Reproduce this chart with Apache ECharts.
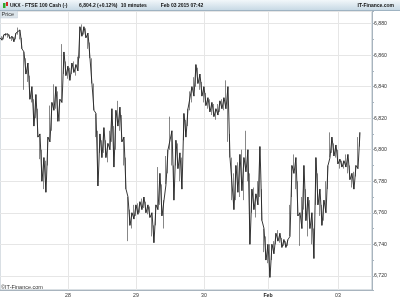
<!DOCTYPE html>
<html><head><meta charset="utf-8">
<script src="https://cdn.jsdelivr.net/npm/echarts@6/dist/echarts.min.js"></script>
<style>html,body{margin:0;padding:0;background:#fff}#c{width:400px;height:300px}</style>
</head><body><div id="c"></div>
<script>
// 10-minute bars (one entry per slot): low and high of each slot
const lows = [6869,6869.5,6870,6872,6871,6870.5,6869,6868.5,6870,6873,6870,6864,6838,6848,6843,6832,6830,6815,6820,6808,
6794,6780,6775,6773,6790,6805,6812,6825,6826,6818,6818,6830,6848,6847,6845,6844,6848,6849,6847,6850,
6858,6872,6873,6871,6864,6858,6842,6825,6808,6777,6798,6795,6798,6795,6792,6800,6805,6789,6800,6815,
6812,6805,6790,6775,6742,6752,6750,6756,6758,6759,6760,6762,6763,6760,6759,6757,6745,6741,6752,6762,
6765,6758,6750,6778,6785,6800,6790,6768,6790,6788,6780,6775,6806,6808,6815,6825,6830,6834,6840,6842,
6838,6834,6830,6828,6826,6824,6822,6821,6819,6822,6824,6826,6825,6826,6805,6795,6768,6762,6768,6773,
6770,6774,6768,6786,6780,6740,6760,6762,6757,6765,6770,6755,6735,6730,6728,6719,6730,6734,6740,6742,
6741,6738,6739,6738,6739,6745,6770,6785,6775,6758,6739,6750,6762,6755,6745,6750,6740,6731,6765,6765,
6758,6752,6755,6760,6775,6795,6798,6796,6795,6791,6788,6789,6788,6789,6785,6781,6776,6775,6783,6788,6802];
const highs = [6871,6872,6873,6874,6873.5,6873,6872,6871.5,6874,6877.5,6876,6871,6862,6858,6855,6847,6840,6832,6835,6826,
6810,6800,6795,6793,6808,6828,6830,6841.5,6840,6837,6832,6867,6862,6856,6853,6852,6855,6856,6854,6859,
6878,6879.5,6878,6877,6874,6868,6858,6842,6823,6812,6810,6806,6814,6806,6804,6812,6826,6815,6825,6831,
6827,6822,6808,6795,6770,6762,6760,6765,6765,6766,6767,6769,6770,6767,6765,6764,6760,6752,6765,6789,
6785,6778,6768,6796,6800,6821,6812,6790,6806,6804,6798,6795,6823,6819,6826,6837,6840,6846,6854,6852,
6848,6843,6840,6836,6833,6832,6830,6829,6826,6829,6831,6832,6833,6844,6840,6810,6795,6785,6790,6792,
6797,6800,6795,6812,6800,6785,6775,6776,6772,6780,6802,6775,6750,6745,6740,6740,6740,6742,6747,6749,
6747,6744,6743,6742,6743,6765,6790,6797,6795,6780,6760,6770,6790,6775,6770,6768,6760,6750,6795,6785,
6775,6765,6768,6780,6790,6811,6808,6804,6803,6800,6794,6793,6793,6797,6797,6790,6785,6786,6790,6808,6811];
const dayLabels = ['28','29','30','Feb','03'];
const dayIndex = [34,68,102,134,169];
const slotCount = 187;
const lastPrice = 6804.2;
const yMin = 6711, yMax = 6888, yStep = 20;

const FONT = '"Liberation Sans", Arial, sans-serif';
const cats = Array.from({length: slotCount}, (_, i) => i);
const candles = lows.map((l, i) => [l, highs[i], l, highs[i]]);
// trace joining each slot's range to the next one (alternating high/low)
const trace = lows.map((l, i) => (i % 2 ? l : highs[i]));
const isDay = (idx) => dayIndex.indexOf(idx) >= 0;

const chart = echarts.init(document.getElementById('c'), null, {renderer: 'canvas'});
chart.setOption({
  animation: false,
  backgroundColor: '#fff',
  grid: {left: 0, right: 28, top: 11, bottom: 10, show: true, borderColor: '#b4c0c9', borderWidth: 1, backgroundColor: '#fff'},
  xAxis: {
    type: 'category', data: cats, boundaryGap: false,
    axisLine: {lineStyle: {color: '#a8b4be', width: 1}},
    axisTick: {show: false},
    axisLabel: {
      interval: (idx) => isDay(idx), margin: 3, fontSize: 5.2, fontFamily: FONT, color: '#333',
      formatter: (v, idx) => { const k = dayIndex.indexOf(Number(v)); if (k < 0) return ''; return dayLabels[k] === 'Feb' ? '{b|Feb}' : dayLabels[k]; },
      rich: {b: {fontWeight: 'bold', fontSize: 5.2, fontFamily: FONT, color: '#222'}}
    },
    splitLine: {show: true, interval: (idx) => isDay(idx), lineStyle: {color: '#e6e6e6', width: 1}}
  },
  yAxis: {
    type: 'value', position: 'right', min: yMin, max: yMax, splitNumber: 9,
    axisLine: {show: true, lineStyle: {color: '#a8b4be', width: 1}},
    axisTick: {show: true, length: 2, lineStyle: {color: '#a8b4be'}},
    minorTick: {show: true, splitNumber: 2, length: 2, lineStyle: {color: '#a8b4be'}},
    axisLabel: {
      margin: 2, fontSize: 5.2, fontFamily: FONT, color: '#333', showMinLabel: false, showMaxLabel: false,
      formatter: (v) => (Math.abs(v % yStep) < 1e-6 ? echarts.format.addCommas(v) : '')
    },
    splitLine: {show: true, lineStyle: {color: '#e6e6e6', width: 1}}
  },
  series: [{
    type: 'candlestick', data: candles, barWidth: 1,
    itemStyle: {color: '#111', color0: '#111', borderColor: '#111', borderColor0: '#111', borderWidth: 0.5},
    markLine: {
      silent: true, symbol: 'none', animation: false,
      lineStyle: {opacity: 0},
      label: {position: 'end', distance: 1, formatter: echarts.format.addCommas(lastPrice.toFixed(1)),
        backgroundColor: '#f5d10a', color: '#000', fontSize: 5.2, fontFamily: FONT, padding: [1, 1.5, 0.5, 1.5]},
      data: [{yAxis: lastPrice}]
    }
  }, {
    type: 'line', data: trace, symbol: 'none', silent: true,
    lineStyle: {color: '#222', width: 0.9}
  }],
  graphic: [
    {type: 'rect', shape: {x: 0, y: 0, width: 400, height: 10.5}, z: 100,
      style: {fill: new echarts.graphic.LinearGradient(0, 0, 0, 1, [{offset: 0, color: '#f2f7fa'}, {offset: 1, color: '#c6d8e4'}])}},
    {type: 'line', shape: {x1: 0, y1: 10.5, x2: 400, y2: 10.5}, z: 101, style: {stroke: '#9fb3c2', lineWidth: 1}},
    {type: 'rect', shape: {x: 3, y: 3, width: 2.5, height: 5}, z: 102, style: {fill: '#2fa82f'}},
    {type: 'rect', shape: {x: 6, y: 2, width: 2, height: 4}, z: 102, style: {fill: '#d42a2a'}},
    {type: 'text', x: 10, y: 5.5, z: 102, style: {text: 'UKX - FTSE 100 Cash (-)', font: 'bold 5px ' + FONT, fill: '#111', verticalAlign: 'middle'}},
    {type: 'text', x: 79, y: 5.5, z: 102, style: {text: '6,804.2 (+0.12%)', font: 'bold 5px ' + FONT, fill: '#111', verticalAlign: 'middle'}},
    {type: 'text', x: 120.7, y: 5.5, z: 102, style: {text: '10 minutes', font: 'bold 5px ' + FONT, fill: '#111', verticalAlign: 'middle'}},
    {type: 'text', x: 160.7, y: 5.5, z: 102, style: {text: 'Feb 03 2015 07:42', font: 'bold 5px ' + FONT, fill: '#111', verticalAlign: 'middle'}},
    {type: 'text', x: 394, y: 5.5, z: 102, style: {text: 'IT-Finance.com', font: 'bold 5px ' + FONT, fill: '#111', align: 'right', verticalAlign: 'middle'}},
    {type: 'rect', shape: {x: 0.5, y: 11, width: 17, height: 7}, z: 102, style: {fill: '#dbe4ea', stroke: '#c3cfd8', lineWidth: 0.5}},
    {type: 'text', x: 1.5, y: 14.6, z: 103, style: {text: 'Price', font: '5.5px ' + FONT, fill: '#333', verticalAlign: 'middle'}},
    {type: 'text', x: 1, y: 287, z: 103, style: {text: '©IT-Finance.com', font: '5.5px ' + FONT, fill: '#333', verticalAlign: 'middle'}}
  ]
});
</script></body></html>
